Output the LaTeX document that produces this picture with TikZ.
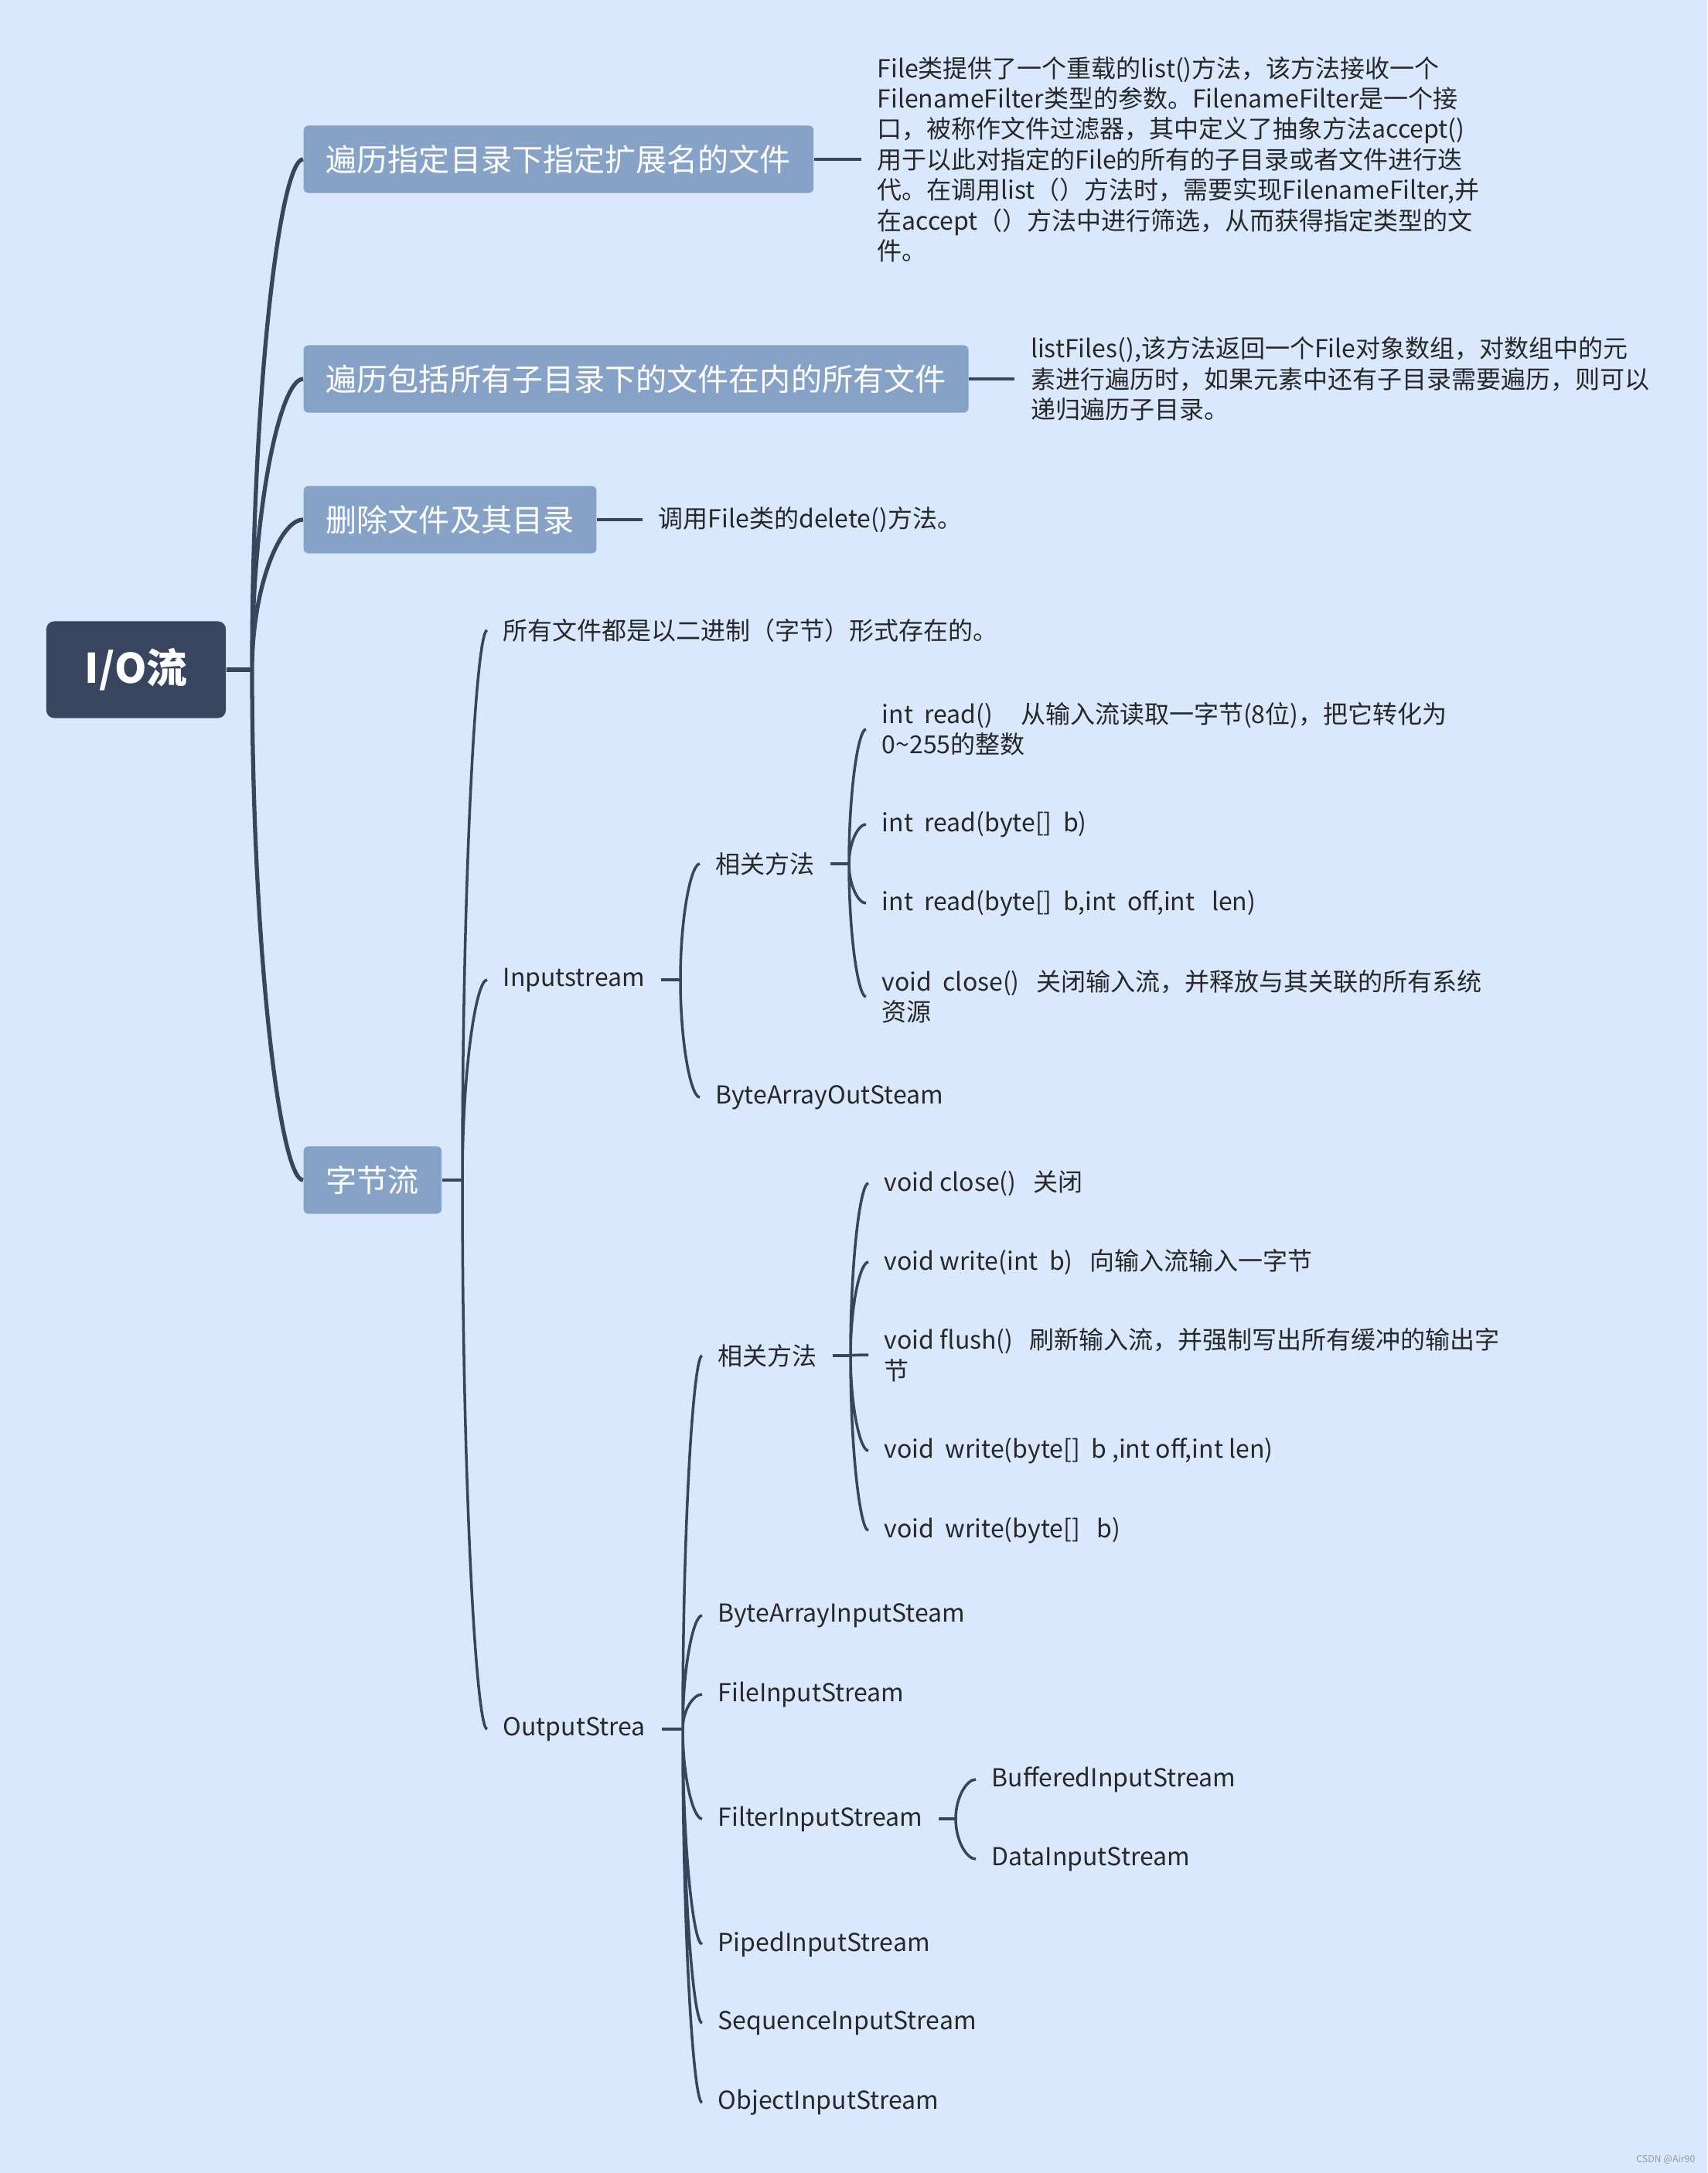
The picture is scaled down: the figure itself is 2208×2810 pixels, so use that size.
\documentclass[tikz,border=0pt]{standalone}
\usepackage{fontspec}
\setmainfont{Noto Sans CJK SC}
\usepackage{tikz}
\usetikzlibrary{positioning,calc}
\definecolor{bgblue}{RGB}{217,232,252}
\definecolor{rootnavy}{RGB}{55,69,94}
\definecolor{boxblue}{RGB}{134,163,199}
\definecolor{inkgray}{RGB}{40,40,40}

\begin{document}
\begin{tikzpicture}[x=0.01cm, y=-0.01cm, font=\fontsize{9.1}{11.2}\selectfont, node distance=2mm]
\tikzset{root/.style={fill=rootnavy, text=white, rounded corners=0.1cm, minimum width=2.32cm, minimum height=1.25cm, font=\fontsize{15}{18}\selectfont\bfseries},topic/.style={fill=boxblue, text=white, rounded corners=0.06cm, inner xsep=0.29cm, minimum height=0.87cm, anchor=west, font=\fontsize{11.4}{14}\selectfont},leaf/.style={text=inkgray, align=left, inner xsep=0.2cm, inner ysep=0pt, anchor=west},trunk/.style={draw=rootnavy, line width=1.5pt},link/.style={draw=rootnavy, line width=1pt},twig/.style={to path={.. controls ($(\tikztostart)!0.55!(\tikztostart|-\tikztotarget)$) and ($(\tikztotarget)!0.45!(\tikztostart|-\tikztotarget)$) .. (\tikztotarget)}}}
\fill[bgblue] (0,0) rectangle (2208,2810); \useasboundingbox (0,0) rectangle (2208,2810);
% root and the four topics
\node[root] (io) at (176,866) {I/O流};
\node[topic] (filter) at (392,206) {遍历指定目录下指定扩展名的文件};
\node[topic] (walk) at (392,490) {遍历包括所有子目录下的文件在内的所有文件};
\node[topic] (remove) at (392,672) {删除文件及其目录};
\node[topic] (bytes) at (392,1526) {字节流};
\coordinate (ioHub) at (326,866);
\draw[trunk] (io.east) -- (ioHub); \draw[trunk] (ioHub) to[twig] (filter.west) (ioHub) to[twig] (walk.west) (ioHub) to[twig] (remove.west) (ioHub) to[twig] (bytes.west);
% notes of the first three topics
\node[leaf, right=0.61cm of filter] (filterNote) {File类提供了一个重载的list()方法，该方法接收一个\\FilenameFilter类型的参数。FilenameFilter是一个接\\口，被称作文件过滤器，其中定义了抽象方法accept()\\用于以此对指定的File的所有的子目录或者文件进行迭\\代。在调用list（）方法时，需要实现FilenameFilter,并\\在accept（）方法中进行筛选，从而获得指定类型的文\\件。};
\node[leaf, right=0.59cm of walk] (walkNote) {listFiles(),该方法返回一个File对象数组，对数组中的元\\素进行遍历时，如果元素中还有子目录需要遍历，则可以\\递归遍历子目录。};
\node[leaf, right=0.59cm of remove] (removeNote) {调用File类的delete()方法。};
\draw[link] (filter.east) -- (filterNote.west); \draw[link] (walk.east) -- (walkNote.west); \draw[link] (remove.east) -- (removeNote.west);
% byte streams
\node[leaf] (allBin) at (630,815) {所有文件都是以二进制（字节）形式存在的。};
\node[leaf] (inStream) at (630,1267) {Inputstream};
\node[leaf] (outStream) at (630,2236) {OutputStrea};
\coordinate (byteHub) at (598,1526);
\draw[link] (bytes.east) -- (byteHub); \draw[link] (byteHub) to[twig] (allBin.west) (byteHub) to[twig] (inStream.west) (byteHub) to[twig] (outStream.west);
% input side
\node[leaf] (inMethods) at (905,1117) {相关方法};
\node[leaf] (inByteOut) at (905,1419) {ByteArrayOutSteam};
\coordinate (inHub) at (880,1267);
\draw[link] (inStream.east) -- (inHub); \draw[link] (inHub) to[twig] (inMethods.west) (inHub) to[twig] (inByteOut.west);
\node[leaf] (readOne) at (1120,943) {int~~read()~~~~~从输入流读取一字节(8位)，把它转化为\\0\textasciitilde255的整数};
\node[leaf] (readBuf) at (1120,1066) {int~~read(byte[]~~b)};
\node[leaf] (readPart) at (1120,1168) {int~~read(byte[]~~b,int~~off,int~~~len)};
\node[leaf] (inClose) at (1120,1289) {void~~close()~~~关闭输入流，并释放与其关联的所有系统\\资源};
\coordinate (inMHub) at (1098,1117);
\draw[link] (inMethods.east) -- (inMHub); \draw[link] (inMHub) to[twig] (readOne.west) (inMHub) to[twig] (readBuf.west) (inMHub) to[twig] (readPart.west) (inMHub) to[twig] (inClose.west);
% output side
\node[leaf] (outMethods) at (908,1753) {相关方法};
\node[leaf] (byteArrIn) at (908,2089) {ByteArrayInputSteam};
\node[leaf] (fileIn) at (908,2191) {FileInputStream};
\node[leaf] (filterIn) at (908,2352) {FilterInputStream};
\node[leaf] (pipedIn) at (908,2514) {PipedInputStream};
\node[leaf] (seqIn) at (908,2616) {SequenceInputStream};
\node[leaf] (objIn) at (908,2719) {ObjectInputStream};
\coordinate (outHub) at (883,2236);
\draw[link] (outStream.east) -- (outHub); \draw[link] (outHub) to[twig] (outMethods.west) (outHub) to[twig] (byteArrIn.west) (outHub) to[twig] (fileIn.west) (outHub) to[twig] (filterIn.west) (outHub) to[twig] (pipedIn.west) (outHub) to[twig] (seqIn.west) (outHub) to[twig] (objIn.west);
\node[leaf] (outClose) at (1123,1530) {void close()~~~关闭};
\node[leaf] (writeOne) at (1123,1632) {void write(int~~b)~~~向输入流输入一字节};
\node[leaf] (outFlush) at (1123,1752) {void flush()~~~刷新输入流，并强制写出所有缓冲的输出字\\节};
\node[leaf] (writePart) at (1123,1876) {void~~write(byte[]~~b ,int off,int len)};
\node[leaf] (writeBuf) at (1123,1979) {void~~write(byte[]~~~b)};
\coordinate (outMHub) at (1100,1753);
\draw[link] (outMethods.east) -- (outMHub); \draw[link] (outMHub) to[twig] (outClose.west) (outMHub) to[twig] (writeOne.west) (outMHub) to[twig] (outFlush.west) (outMHub) to[twig] (writePart.west) (outMHub) to[twig] (writeBuf.west);
\node[leaf] (bufIn) at (1262,2301) {BufferedInputStream};
\node[leaf] (dataIn) at (1262,2404) {DataInputStream};
\coordinate (filtHub) at (1236,2352);
\draw[link] (filterIn.east) -- (filtHub); \draw[link] (filtHub) to[twig] (bufIn.west) (filtHub) to[twig] (dataIn.west);
\node[text=gray!80, font=\fontsize{3.5}{4}\selectfont, anchor=east, inner sep=0pt] (mark) at (2193,2793) {CSDN @Air90};
\end{tikzpicture}
\end{document}
